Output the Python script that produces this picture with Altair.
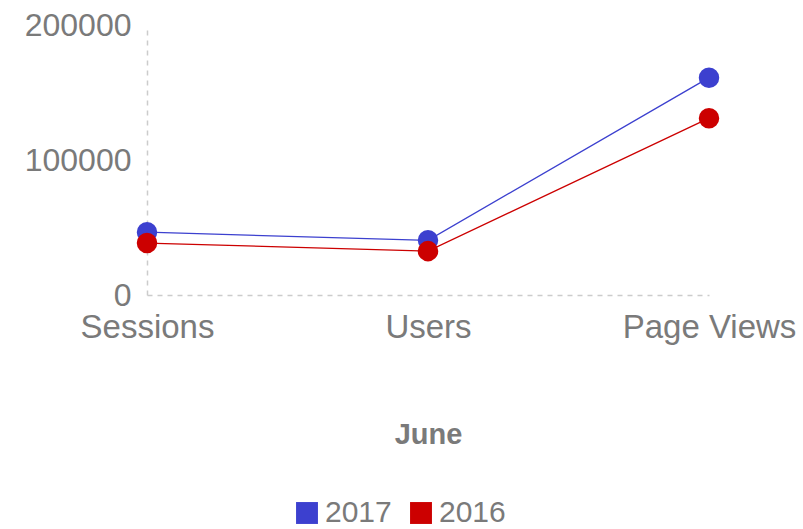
import altair as alt
import pandas as pd

categories = ["Sessions", "Users", "Page Views"]
series_names = ["2017", "2016"]
values_2017 = [46500, 40500, 161000]
values_2016 = [38500, 32500, 131000]

rows = []
for name, vals in zip(series_names, [values_2017, values_2016]):
    for c, v in zip(categories, vals):
        rows.append({"metric": c, "year": name, "value": v})
df = pd.DataFrame(rows)

FONT = "Liberation Sans"
GREY = "#7a7a7a"

color = alt.Color(
    "year:N",
    scale=alt.Scale(domain=series_names, range=["#3c40cf", "#cc0000"]),
    sort=series_names,
    legend=alt.Legend(
        title=None,
        orient="none",
        direction="horizontal",
        legendX=145,
        legendY=473,
        symbolType="square",
        symbolSize=480,
        symbolStrokeWidth=0,
        symbolOpacity=1,
        labelFontSize=30,
        labelFont=FONT,
        labelColor=GREY,
        columnPadding=14,
        labelOffset=3,
    ),
)

x = alt.X(
    "metric:N",
    sort=categories,
    scale=alt.Scale(padding=0),
    axis=alt.Axis(
        title="June",
        titleFont=FONT,
        titleFontSize=29,
        titleFontWeight="bold",
        titleColor=GREY,
        titlePadding=76,
        labelAngle=0,
        labelFont=FONT,
        labelFontSize=33,
        labelColor=GREY,
        labelPadding=16,
        ticks=False,
        domainColor="#cccccc",
        domainDash=[5, 5],
        domainWidth=1.5,
        grid=False,
    ),
)
y = alt.Y(
    "value:Q",
    scale=alt.Scale(domain=[0, 200000], nice=False),
    axis=alt.Axis(
        title=None,
        values=[0, 100000, 200000],
        format="d",
        labelFont=FONT,
        labelFontSize=32,
        labelColor=GREY,
        labelPadding=16,
        ticks=False,
        domainColor="#cccccc",
        domainDash=[5, 5],
        domainWidth=1.5,
        grid=False,
    ),
)

lines = alt.Chart(df).mark_line(strokeWidth=1.3).encode(
    x=x, y=y, color=color,
)
points = alt.Chart(df).mark_point(filled=True, opacity=1, size=420, shape="circle").encode(
    x=x, y=y, color=color,
)

chart = alt.layer(lines, points).properties(
    width=562,
    height=270,
    background="white",
    autosize=alt.AutoSizeParams(type="none"),
    padding={"left": 147, "top": 25, "right": 94, "bottom": 234},
).configure_view(strokeWidth=0)

chart.save("out.html", embed_options={"renderer": "svg", "actions": False})
